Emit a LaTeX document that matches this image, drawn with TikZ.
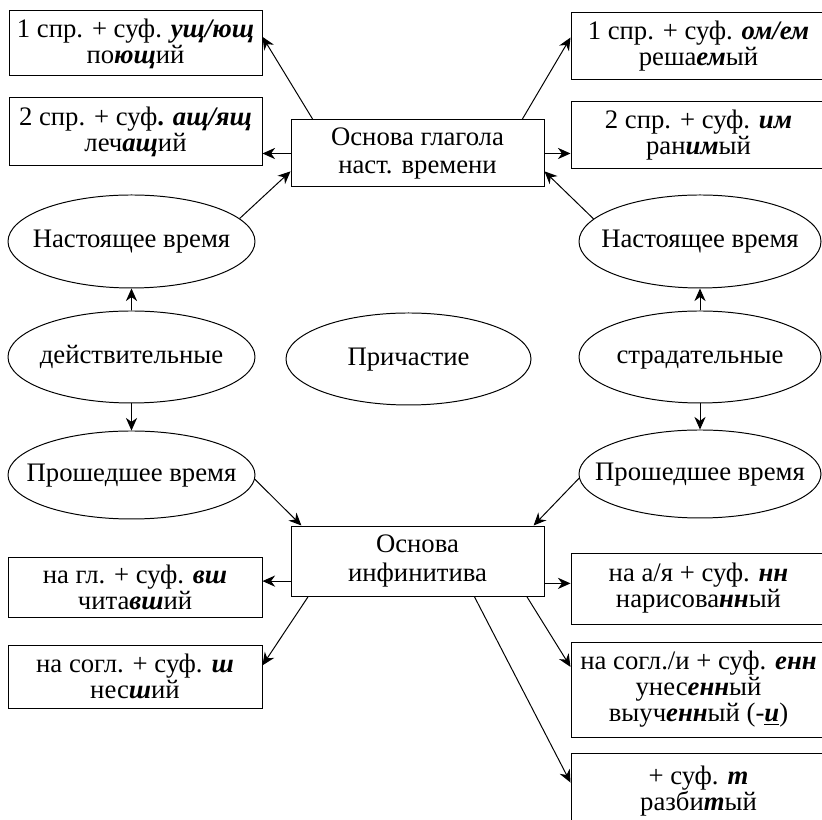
\documentclass[tikz,border=0pt]{standalone}
\usepackage{fontspec}
\setmainfont{Liberation Serif}
\usepackage{tikz}
\usetikzlibrary{shapes.geometric, arrows.meta}

\newcommand{\bisuf}[1]{\textbf{\textit{#1}}}

\begin{document}
\begin{tikzpicture}[
  every node/.style={font=\fontsize{19}{18.5}\selectfont},
  >={Stealth[length=9pt,width=8pt]},
  line width=0.7pt,
  RuleBox/.style={draw, rectangle, align=center, inner sep=0pt, minimum width=6.325cm},
  EdgeBox/.style={RuleBox, minimum width=6.375cm},
  StemBox/.style={RuleBox, font=\fontsize{19}{20}\selectfont},
  TenseOval/.style={draw, ellipse, inner xsep=-14pt, inner ysep=0pt, text height=13pt, text depth=4pt, minimum width=6.175cm, minimum height=2.3cm}
]
\useasboundingbox (0,0) rectangle (20.55,20.5);

\node[RuleBox, minimum height=1.625cm] (ActPresA) at (3.3875,19.4125) {1 спр. + суф. \bisuf{ущ/ющ}\\по\bisuf{ющ}ий};
\node[RuleBox, minimum height=1.7cm] (ActPresB) at (3.3875,17.2) {2 спр. + суф\textbf{.} \bisuf{ащ/ящ}\\леч\bisuf{ащ}ий};
\node[StemBox, minimum height=1.675cm] (PresStem) at (10.4375,16.6625) {Основа глагола\\наст. времени};
\node[EdgeBox, minimum height=1.675cm] (PasPresA) at (17.4625,19.3375) {1 спр. + суф. \bisuf{ом/ем}\\реша\bisuf{ем}ый};
\node[EdgeBox, minimum height=1.675cm] (PasPresB) at (17.4625,17.1125) {2 спр. + суф. \bisuf{им}\\ран\bisuf{им}ый};

\node[TenseOval, minimum height=2.325cm] (ActNow) at (3.2875,14.4625) {Настоящее время};
\node[TenseOval, minimum width=6.05cm, minimum height=2.325cm] (PasNow) at (17.5,14.4625) {Настоящее время};
\node[TenseOval] (Active) at (3.2875,11.575) {действительные};
\node[TenseOval, minimum width=6.125cm] (Participle) at (10.2125,11.525) {Причастие};
\node[TenseOval, minimum width=6.05cm] (Passive) at (17.5,11.575) {страдательные};
\node[TenseOval, minimum height=2.2cm] (ActPast) at (3.2875,8.625) {Прошедшее время};
\node[TenseOval, minimum width=6.05cm, minimum height=2.2cm] (PasPast) at (17.5,8.65) {Прошедшее время};

\node[StemBox, minimum height=1.75cm] (InfStem) at (10.4375,6.475) {Основа\\инфинитива};
\node[RuleBox, minimum width=6.35cm, minimum height=1.5cm] (ActPastA) at (3.375,5.825) {на гл. + суф. \bisuf{вш}\\чита\bisuf{вш}ий};
\node[RuleBox, minimum width=6.35cm, minimum height=1.575cm] (ActPastB) at (3.375,3.5875) {на согл. + суф. \bisuf{ш}\\нес\bisuf{ш}ий};
\node[EdgeBox, minimum height=1.775cm] (PasPastA) at (17.4625,5.7875) {на а/я + суф. \bisuf{нн}\\нарисова\bisuf{нн}ый};
\node[EdgeBox, minimum height=2.375cm] (PasPastB) at (17.4625,3.2625) {на согл./и + суф. \bisuf{енн}\\унес\bisuf{енн}ый\\выуч\bisuf{енн}ый (-\underline{\bisuf{и}})};
\node[EdgeBox, minimum height=1.925cm] (PasPastC) at (17.4625,0.7125) {+ суф. \bisuf{т}\\разби\bisuf{т}ый};

% present stem
\draw[->] (PresStem.162) to (ActPresA.3);
\draw[->] (PresStem.west) to (PresStem.west -| ActPresB.east);
\draw[->] (PresStem.18) to (PasPresA.176);
\draw[->] (PresStem.east) to (PresStem.east -| PasPresB.west);
\draw[->] (ActNow.12) to (PresStem.188);
\draw[->] (PasNow.168) to (PresStem.352);

\draw[->] (Active) to (ActNow);
\draw[->] (Passive) to (PasNow);
\draw[->] (Active) to (ActPast);
\draw[->] (Passive) to (PasPast);

% infinitive stem
\draw[->] (ActPast.358) to (InfStem.163);
\draw[->] (PasPast.182) to (InfStem.17);
\draw[->] (InfStem.189) to (InfStem.189 -| ActPastA.east);
\draw[->] (InfStem.198) to (ActPastB.5);
\draw[->] (InfStem.350) to (InfStem.350 -| PasPastA.west);
\draw[->] (InfStem.342) to (PasPastB.170);
\draw[->] (InfStem.328) to (PasPastC.176);
\end{tikzpicture}
\end{document}
